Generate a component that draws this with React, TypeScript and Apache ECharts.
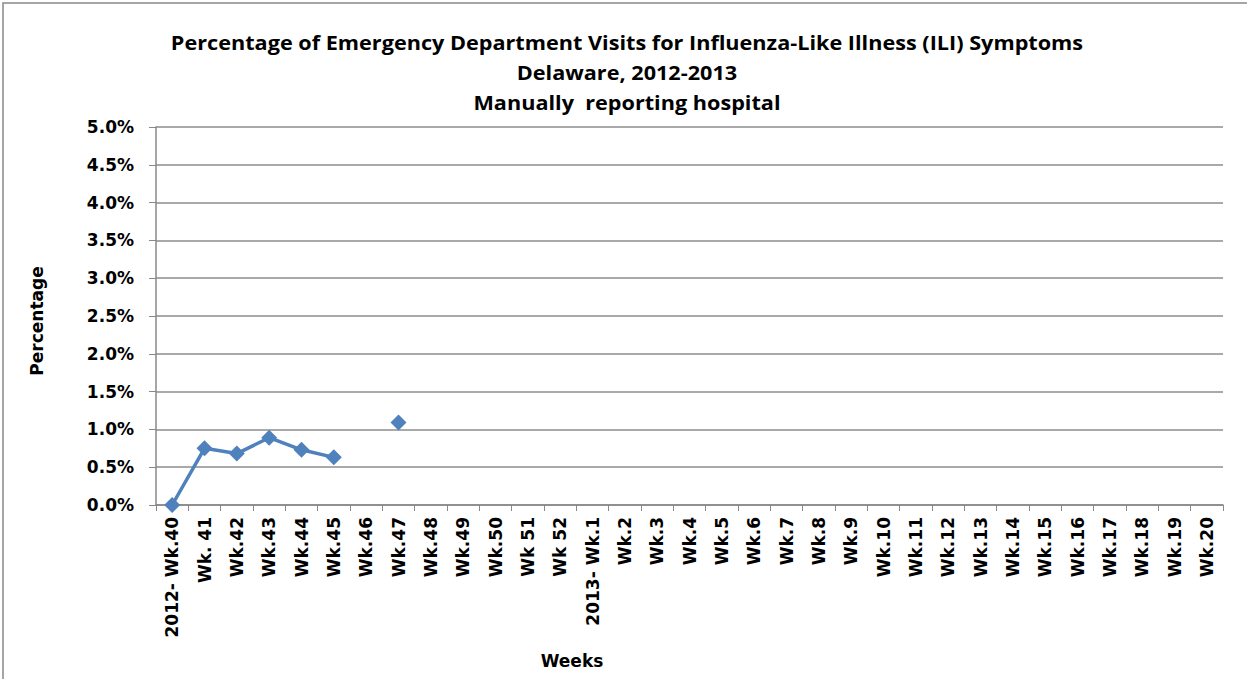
import React, { useEffect, useRef } from "react";
import * as echarts from "echarts";

const titleLines = [
  "Percentage of Emergency Department Visits for Influenza-Like Illness (ILI) Symptoms",
  "Delaware, 2012-2013",
  "Manually  reporting hospital",
];

const weeks = [
  "2012- Wk.40", "Wk. 41", "Wk.42", "Wk.43", "Wk.44", "Wk.45", "Wk.46", "Wk.47", "Wk.48",
  "Wk.49", "Wk.50", "Wk 51", "Wk 52", "2013- Wk.1", "Wk.2", "Wk.3", "Wk.4", "Wk.5", "Wk.6",
  "Wk.7", "Wk.8", "Wk.9", "Wk.10", "Wk.11", "Wk.12", "Wk.13", "Wk.14", "Wk.15", "Wk.16",
  "Wk.17", "Wk.18", "Wk.19", "Wk.20",
];

const iliPercent: (number | null)[] = [
  0.0, 0.75, 0.68, 0.89, 0.73, 0.63, null, 1.09,
  null, null, null, null, null, null, null, null, null, null, null, null, null, null,
  null, null, null, null, null, null, null, null, null, null, null,
];

const yMin = 0;
const yMax = 5;
const yStep = 0.5;

export default function App() {
  const ref = useRef<HTMLDivElement>(null);
  useEffect(() => {
    document.body.style.margin = "0";
    const chart = echarts.init(ref.current!, null, { renderer: "svg" });
    const titleFont = "'Open Sans', sans-serif";
    const labelFont = "'DejaVu Sans', Verdana, sans-serif";
    chart.setOption({
      animation: false,
      backgroundColor: "#ffffff",
      graphic: [
        {
          type: "rect",
          shape: { x: 3, y: 3, width: 1300, height: 800 },
          style: { fill: "none", stroke: "#888888", lineWidth: 1.5 },
          silent: true,
        },
        ...titleLines.map((t, i) => ({
          type: "text",
          x: 627,
          y: 42 + i * 30,
          scaleX: 1.11,
          style: {
            text: t,
            fontFamily: titleFont,
            fontWeight: "bold",
            fontSize: 19.5,
            fill: "#000",
            textAlign: "center",
            textVerticalAlign: "middle",
          },
        })),
        {
          type: "text",
          x: 572,
          y: 661,
          style: {
            text: "Weeks",
            fontFamily: labelFont,
            fontWeight: "bold",
            fontSize: 17,
            fill: "#000",
            textAlign: "center",
            textVerticalAlign: "middle",
          },
        },
        {
          type: "text",
          x: 37,
          y: 321,
          rotation: Math.PI / 2,
          style: {
            text: "Percentage",
            fontFamily: labelFont,
            fontWeight: "bold",
            fontSize: 17,
            fill: "#000",
            textAlign: "center",
            textVerticalAlign: "middle",
          },
        },
      ],
      grid: { left: 156, right: 24, top: 127, bottom: 174, containLabel: false },
      xAxis: {
        type: "category",
        data: weeks,
        boundaryGap: true,
        axisLine: { lineStyle: { color: "#888888", width: 1.5 } },
        axisTick: { show: true, alignWithLabel: false, length: 6, lineStyle: { color: "#888888" } },
        axisLabel: {
          rotate: 90,
          interval: 0,
          fontFamily: labelFont,
          fontWeight: "bold",
          fontSize: 17,
          color: "#000",
          margin: 12,
        },
        splitLine: { show: false },
      },
      yAxis: {
        type: "value",
        min: yMin,
        max: yMax,
        interval: yStep,
        axisLine: { show: true, lineStyle: { color: "#888888", width: 1.5 } },
        axisTick: { show: true, length: 7, lineStyle: { color: "#888888" } },
        axisLabel: {
          formatter: (v: number) => v.toFixed(1) + "%",
          fontFamily: labelFont,
          fontWeight: "bold",
          fontSize: 17,
          color: "#000",
          margin: 22,
        },
        splitLine: { show: true, lineStyle: { color: "#8c8c8c", width: 1.5 } },
      },
      series: [
        {
          type: "line",
          data: iliPercent,
          connectNulls: false,
          symbol: "diamond",
          symbolSize: 16,
          showAllSymbol: true,
          lineStyle: { color: "#4F81BD", width: 3.5 },
          itemStyle: { color: "#4F81BD" },
        },
      ],
    });
    return () => chart.dispose();
  }, []);
  return <div ref={ref} style={{ width: 1247, height: 679 }} />;
}
